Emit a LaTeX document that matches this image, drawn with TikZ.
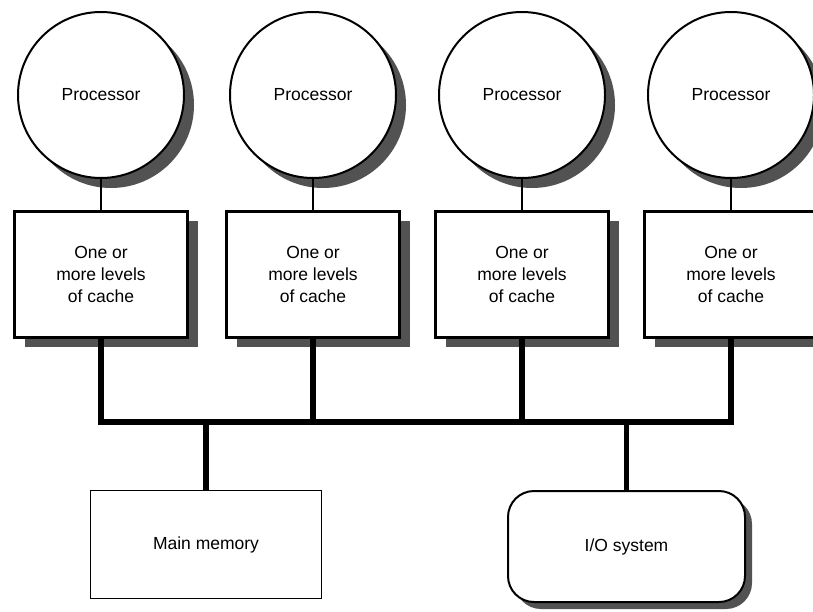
\documentclass[tikz,border=0pt]{standalone}
\usepackage{fontspec}
\setmainfont{Liberation Sans}
\usetikzlibrary{positioning}
\usetikzlibrary{shadows}
\tikzstyle{proc} = [draw, circle, line width = 2pt, fill = white, minimum size = 166pt, inner sep = 0pt, drop shadow = {shadow xshift = 10pt, shadow yshift = -10pt, fill = black!68, opacity = 1}]
\tikzstyle{cache} = [draw, rectangle, line width = 2.5pt, fill = white, minimum width = 173pt, minimum height = 126pt, align = center, drop shadow = {shadow xshift = 10pt, shadow yshift = -10pt, fill = black!68, opacity = 1}]
\tikzstyle{link} = [line width = 1.2pt]
\tikzstyle{bus} = [line width = 5.5pt]

\begin{document}
\begin{tikzpicture}[x = 1pt, y = -1pt, font = \fontsize{17.5}{22}\selectfont]

	\clip (0,0) rectangle (813,611);
	\fill[white] (0,0) rectangle (813,611);

	% Processors
	\node[proc] (p1) at (101,95) {Processor};
	\node[proc] (p2) at (313,95) {Processor};
	\node[proc] (p3) at (522,95) {Processor};
	\node[proc] (p4) at (731,95) {Processor};

	% Caches
	\node[cache, below = 31pt of p1] (c1) {One or\\more levels\\of cache};
	\node[cache, below = 31pt of p2] (c2) {One or\\more levels\\of cache};
	\node[cache, below = 31pt of p3] (c3) {One or\\more levels\\of cache};
	\node[cache, below = 31pt of p4] (c4) {One or\\more levels\\of cache};

	% Memory and I/O
	\node[draw, rectangle, line width = 1.5pt, minimum width = 231pt, minimum height = 108pt] (mem) at (206,544.5) {Main memory};
	\node[draw, rectangle, rounded corners = 26pt, line width = 2pt, fill = white, minimum width = 237pt, minimum height = 111pt, drop shadow = {shadow xshift = 7pt, shadow yshift = -7pt, fill = black!68, opacity = 1}] (io) at (626.5,546.5) {I/O system};

	% Links
	\draw[link] (p1.south) -- (c1.north);
	\draw[link] (p2.south) -- (c2.north);
	\draw[link] (p3.south) -- (c3.north);
	\draw[link] (p4.south) -- (c4.north);

	% Bus
	\coordinate (bl) at (101,422);
	\draw[bus] (c1.south) -- (bl) -| (c4.south);
	\draw[bus] (c2.south) -- (c2.south |- bl);
	\draw[bus] (c3.south) -- (c3.south |- bl);
	\draw[bus] (mem.north) -- (mem.north |- bl);
	\draw[bus] (io.north) -- (io.north |- bl);

\end{tikzpicture}
\end{document}
